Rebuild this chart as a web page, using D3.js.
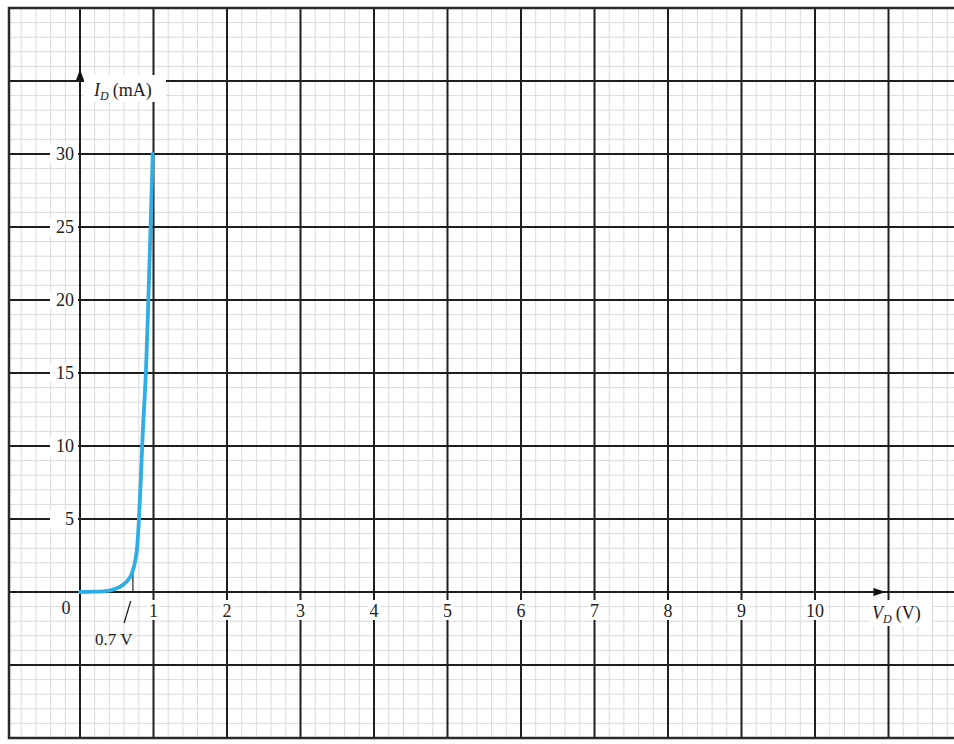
<!DOCTYPE html>
<html>
<head>
<meta charset="utf-8">
<script src="https://cdn.jsdelivr.net/npm/d3@7/dist/d3.min.js"></script>
<style>
  html, body { margin: 0; padding: 0; background: #fff; }
  svg { display: block; }
  text { font-family: "Liberation Serif", "Times New Roman", "DejaVu Serif", serif; fill: #222; }
</style>
</head>
<body>
<svg id="chart" width="954" height="744"></svg>
<script>
// ---- data ----
const voltage = [0, 0.2, 0.4, 0.5, 0.6, 0.65, 0.7, 0.75, 0.78, 0.8, 0.83, 0.85, 0.9, 0.93, 0.96, 0.99];
const current = [0, 0.02, 0.1, 0.25, 0.55, 0.8, 1.2, 2.1, 3.2, 4.8, 8, 10.5, 15.5, 20, 25, 30];
const xTicks = [1, 2, 3, 4, 5, 6, 7, 8, 9, 10];
const yTicks = [5, 10, 15, 20, 25, 30];
const kneeVoltage = 0.72;
const kneeCurrent = 1.3;

const svg = d3.select("#chart");
const x = d3.scaleLinear().domain([0, 1]).range([80, 153.5]);
const y = d3.scaleLinear().domain([-10, 40]).range([738, 8]);

const frame = { left: 9, top: y(40), right: 954, bottom: y(-10) };

svg.append("defs").append("clipPath").attr("id", "clip")
  .append("rect").attr("x", frame.left).attr("y", frame.top)
  .attr("width", frame.right - frame.left).attr("height", frame.bottom - frame.top);

const grid = svg.append("g").attr("clip-path", "url(#clip)");

// minor grid
const minorX = d3.range(-1, 13.01, 0.2).map(v => +v.toFixed(1));
const minorY = d3.range(-11, 41, 1);
grid.selectAll(".mx").data(minorX).join("line")
  .attr("x1", d => x(d)).attr("x2", d => x(d))
  .attr("y1", frame.top).attr("y2", frame.bottom)
  .attr("stroke", "#dadada").attr("stroke-width", 1);
grid.selectAll(".my").data(minorY).join("line")
  .attr("y1", d => y(d)).attr("y2", d => y(d))
  .attr("x1", frame.left).attr("x2", frame.right)
  .attr("stroke", "#dadada").attr("stroke-width", 1);

// major grid
const majorX = d3.range(-1, 13, 1);
const majorY = d3.range(-5, 36, 5);
grid.selectAll(".Mx").data(majorX).join("line")
  .attr("x1", d => x(d)).attr("x2", d => x(d))
  .attr("y1", frame.top).attr("y2", frame.bottom)
  .attr("stroke", "#1e1e1e").attr("stroke-width", 2);
grid.selectAll(".My").data(majorY).join("line")
  .attr("y1", d => y(d)).attr("y2", d => y(d))
  .attr("x1", frame.left).attr("x2", frame.right)
  .attr("stroke", "#1e1e1e").attr("stroke-width", 2);

// frame border
svg.append("path")
  .attr("d", `M${frame.right},${frame.top}H${frame.left}V${frame.bottom}H${frame.right}`)
  .attr("fill", "none").attr("stroke", "#2a2a2a").attr("stroke-width", 2.5);

// label backgrounds + labels
const labels = svg.append("g");
function bgRect(x0, y0, w, h) {
  labels.append("rect").attr("x", x0).attr("y", y0).attr("width", w).attr("height", h).attr("fill", "#fff");
}

// y tick labels
yTicks.forEach(t => {
  bgRect(50, y(t) - 9, 28, 18);
  labels.append("text").attr("x", 74).attr("y", y(t) + 6)
    .attr("text-anchor", "end").attr("font-size", 18).text(t);
});
// x tick labels
xTicks.forEach(t => {
  const w = t >= 10 ? 22 : 12;
  bgRect(x(t) - w / 2, 600, w, 20);
  labels.append("text").attr("x", x(t)).attr("y", 617)
    .attr("text-anchor", "middle").attr("font-size", 18).text(t);
});
// origin label
labels.append("text").attr("x", 66).attr("y", 614).attr("text-anchor", "middle").attr("font-size", 18).text("0");

// axis titles
bgRect(84, 75, 82, 27);
const yt = labels.append("text").attr("x", 94).attr("y", 96).attr("font-size", 18);
yt.append("tspan").attr("font-style", "italic").text("I");
yt.append("tspan").attr("font-style", "italic").attr("font-size", 12).attr("dy", 4).text("D");
yt.append("tspan").attr("dy", -4).attr("dx", 4).text("(mA)");

bgRect(870, 600, 62, 26);
const xt = labels.append("text").attr("x", 872).attr("y", 619).attr("font-size", 18);
xt.append("tspan").attr("font-style", "italic").text("V");
xt.append("tspan").attr("font-style", "italic").attr("font-size", 12).attr("dy", 4).text("D");
xt.append("tspan").attr("dy", -4).attr("dx", 4).text("(V)");

// axis arrows
svg.append("path")
  .attr("d", `M${x(0)},${y(35.8)}l-4,11h8z`).attr("fill", "#111");
svg.append("path")
  .attr("d", `M${x(11) - 3},${y(0)}l-12,-4v8z`).attr("fill", "#111");

// knee annotation
svg.append("line")
  .attr("x1", x(kneeVoltage)).attr("x2", x(kneeVoltage))
  .attr("y1", y(kneeCurrent)).attr("y2", y(0))
  .attr("stroke", "#222").attr("stroke-width", 1.2);
svg.append("line")
  .attr("x1", x(0.69)).attr("y1", 601).attr("x2", x(0.6)).attr("y2", 623)
  .attr("stroke", "#222").attr("stroke-width", 1.3);
labels.append("text").attr("x", 95).attr("y", 645).attr("font-size", 17).text("0.7 V");

// curve
const line = d3.line().x((d, i) => x(voltage[i])).y(d => y(d)).curve(d3.curveMonotoneX);
svg.append("path").datum(current)
  .attr("d", line)
  .attr("fill", "none").attr("stroke", "#2eaee4").attr("stroke-width", 3.8)
  .attr("stroke-linecap", "round");
</script>
</body>
</html>
